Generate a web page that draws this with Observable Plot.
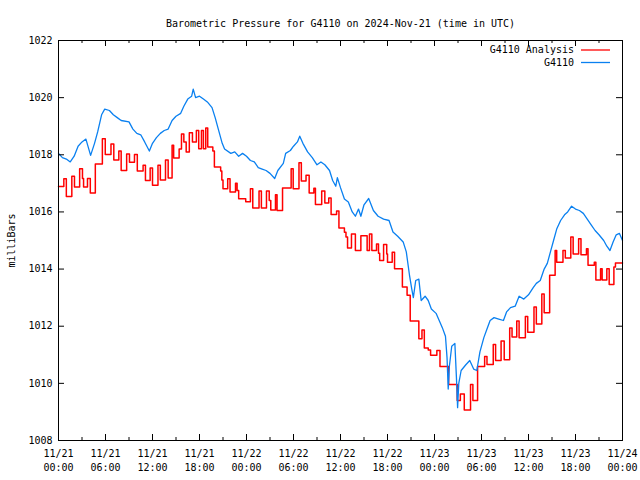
<!DOCTYPE html>
<html><head><meta charset="utf-8">
<script src="https://cdn.jsdelivr.net/npm/d3@7"></script>
<script src="https://cdn.jsdelivr.net/npm/@observablehq/plot@0.6"></script>
<style>body{margin:0;background:#fff}</style>
</head><body><div id="chart"></div>
<script>
const title = "Barometric Pressure for G4110 on 2024-Nov-21 (time in UTC)";
const yLabel = "milliBars";
const seriesNames = ["G4110 Analysis", "G4110"];
const seriesColors = ["#ff0000", "#0a80f0"];
const xTicks = [0, 6, 12, 18, 24, 30, 36, 42, 48, 54, 60, 66, 72];
const xTickLabels = ["11/21\n00:00","11/21\n06:00","11/21\n12:00","11/21\n18:00","11/22\n00:00","11/22\n06:00","11/22\n12:00","11/22\n18:00","11/23\n00:00","11/23\n06:00","11/23\n12:00","11/23\n18:00","11/24\n00:00"];
const xMinorTicks = [3, 9, 15, 21, 27, 33, 39, 45, 51, 57, 63, 69];
const yTicks = [1008, 1010, 1012, 1014, 1016, 1018, 1020, 1022];

// G4110 Analysis (step series): hours since 11/21 00:00 UTC, value in mb
const redHours = [0,0.68,1.0,1.7,2.04,2.7,3.06,3.2,3.7,4.06,4.7,5.6,5.97,6.7,7.06,7.7,8.0,8.7,9.06,9.7,10.06,10.8,11.1,11.7,12.0,12.7,13.0,13.66,14.0,14.5,14.7,15.4,15.7,16.0,16.3,16.7,17.1,17.6,17.9,18.25,18.5,18.8,19.05,19.7,19.9,20.7,20.85,21.0,21.6,21.9,22.6,22.8,23.0,23.9,24.5,24.8,25.6,25.9,26.55,26.9,27.1,27.7,27.9,28.6,29.7,29.96,30.7,31.0,31.6,32.0,32.6,32.8,33.6,34.0,34.5,34.8,35.5,35.8,36.5,36.7,36.9,37.4,37.9,38.6,39.4,39.7,40.0,40.6,40.85,41.0,41.5,41.9,42.0,42.6,42.9,43.9,44.5,44.9,46.0,46.4,46.7,47.2,47.5,48.3,48.7,49.8,50.9,51.3,51.8,52.6,52.9,53.5,54.4,54.7,55.5,55.8,56.5,56.9,57.6,57.9,58.5,58.8,59.6,59.9,60.7,61.0,61.7,62.0,62.7,63.4,63.6,64.4,64.7,65.4,65.7,66.4,66.7,67.4,67.6,68.4,68.6,69.2,69.4,70.0,70.3,70.9,71.1,72];
const redValues = [1016.89,1017.16,1016.54,1017.25,1016.87,1017.51,1017.17,1016.87,1017.17,1016.66,1017.68,1018.56,1018.01,1018.38,1017.82,1018.13,1017.45,1018.03,1017.74,1018.01,1017.43,1017.63,1017.1,1017.54,1016.93,1017.63,1017.12,1017.82,1017.19,1018.33,1017.89,1018.2,1018.73,1018.45,1018.1,1018.77,1018.45,1018.85,1018.21,1018.85,1018.21,1018.94,1018.27,1018.13,1017.57,1017.43,1017.12,1016.81,1017.16,1016.7,1017.0,1016.75,1016.46,1016.36,1016.81,1016.14,1016.73,1016.14,1016.73,1016.4,1016.07,1016.6,1016.05,1016.84,1017.51,1016.81,1017.72,1017.08,1017.28,1016.66,1016.83,1016.26,1016.73,1016.31,1016.49,1015.91,1016.03,1015.44,1015.29,1015.12,1014.74,1015.23,1014.65,1015.17,1014.65,1015.23,1014.65,1014.88,1014.55,1014.3,1014.86,1014.53,1014.24,1014.59,1014.01,1013.37,1013.08,1012.18,1011.56,1011.87,1011.24,1011.17,1010.98,1011.15,1010.59,1009.96,1009.4,1009.63,1009.07,1009.96,1009.4,1010.59,1010.94,1010.66,1011.36,1010.8,1011.48,1010.83,1011.94,1011.62,1012.18,1011.6,1012.34,1011.79,1012.67,1012.08,1013.13,1012.47,1013.78,1014.65,1014.24,1014.65,1014.39,1015.12,1014.53,1015.06,1014.5,1014.71,1014.13,1014.24,1013.62,1014.01,1013.62,1014.01,1013.46,1014.07,1014.21,1014.21];

// G4110 observed
const blueHours = [0,0.5,1,1.5,2,2.5,3,3.5,4.1,4.6,5,5.5,5.9,6.5,7,7.5,8,9,9.5,10,10.5,11,11.6,12,12.5,13,13.5,14,14.5,15,15.6,16,16.5,17,17.2,17.5,18,18.5,19,19.6,20,20.4,20.9,21.2,22,22.5,23,23.5,24,24.5,25,25.5,26,26.5,27,27.6,28,28.7,29,29.6,30,30.5,30.8,31.2,31.8,32.4,33,33.5,34,34.6,35,35.4,35.6,36,36.5,37,37.5,37.9,38.3,38.6,39,39.6,40.2,40.8,41.5,42.2,42.7,43.3,44,44.4,44.8,45.1,45.3,45.6,46,46.3,46.8,47.2,47.6,48.2,48.6,49.0,49.4,49.6,49.75,49.9,50.2,50.6,50.8,50.95,51.1,51.4,52,52.5,53,53.4,53.8,54.3,54.7,55.1,55.6,56.2,56.8,57.2,57.7,58.3,58.8,59.4,60,60.6,61,61.5,62,62.4,62.8,63.2,63.6,64.1,64.6,65,65.5,66,66.5,67,67.5,68,68.5,69,69.6,70,70.4,70.8,71.2,71.6,72];
const blueValues = [1018.05,1017.9,1017.85,1017.75,1017.95,1018.3,1018.45,1018.55,1017.98,1018.4,1018.8,1019.4,1019.6,1019.55,1019.4,1019.3,1019.2,1019.15,1018.9,1018.75,1018.7,1018.45,1018.13,1018.4,1018.6,1018.75,1018.85,1018.9,1019.2,1019.35,1019.45,1019.7,1019.95,1020.05,1020.3,1020.0,1020.05,1019.95,1019.85,1019.65,1019.3,1018.9,1018.4,1018.2,1018.05,1018.1,1017.95,1018.05,1017.95,1017.8,1017.75,1017.55,1017.5,1017.45,1017.35,1017.17,1017.45,1017.7,1018.05,1018.15,1018.3,1018.45,1018.65,1018.4,1018.1,1017.9,1017.65,1017.75,1017.65,1017.45,1017.1,1016.9,1017.2,1016.85,1016.45,1016.35,1016.0,1015.85,1016.1,1015.85,1016.25,1016.47,1016.05,1015.85,1015.75,1015.7,1015.3,1015.15,1014.95,1014.6,1013.8,1013.3,1013.0,1013.6,1013.65,1012.9,1013.05,1012.9,1012.6,1012.45,1012.2,1011.95,1011.65,1010.9,1009.8,1010.6,1011.3,1011.4,1010.2,1009.15,1010.0,1010.45,1010.65,1010.8,1010.5,1010.45,1011.1,1011.6,1011.9,1012.2,1012.3,1012.25,1012.2,1012.5,1012.65,1012.7,1013.05,1012.95,1013.1,1013.35,1013.5,1013.6,1014.0,1014.2,1014.6,1015.0,1015.4,1015.7,1015.9,1016.0,1016.2,1016.1,1016.05,1015.95,1015.75,1015.55,1015.35,1015.2,1015.0,1014.8,1014.65,1014.95,1015.2,1015.25,1015.0];

const red = redHours.map((h, i) => ({h, v: redValues[i]}));
const blue = blueHours.map((h, i) => ({h, v: blueValues[i]}));

const W = 640, H = 480, mL = 58, mR = 18, mT = 40, mB = 40;
const innerW = W - mL - mR, innerH = H - mT - mB;
const font = "DejaVu Sans Mono";

const legend = (index, scales, values, dims) => {
  const g = d3.create("svg:g").attr("font-family", font).attr("font-size", 10);
  const xr = dims.width - dims.marginRight;
  seriesNames.forEach((name, i) => {
    const y = dims.marginTop + 10 + i * 12.5;
    g.append("text").attr("x", xr - 48).attr("y", y).attr("text-anchor", "end")
      .attr("dy", "0.32em").attr("fill", "black").text(name);
    g.append("line").attr("x1", xr - 41).attr("x2", xr - 12).attr("y1", y).attr("y2", y)
      .attr("stroke", seriesColors[i]).attr("stroke-width", 1.3);
  });
  return g.node();
};

const chart = Plot.plot({
  width: W, height: H,
  marginLeft: mL, marginRight: mR, marginTop: mT, marginBottom: mB,
  style: {fontFamily: font, fontSize: "10px", color: "black", background: "white"},
  x: {domain: [0, 72]},
  y: {domain: [1008, 1022]},
  marks: [
    Plot.line(red, {x: "h", y: "v", curve: "step-after", stroke: seriesColors[0], strokeWidth: 1.5}),
    Plot.line(blue, {x: "h", y: "v", stroke: seriesColors[1], strokeWidth: 1.3}),
    Plot.tickX(xTicks, {x: d => d, insetTop: innerH - 6, stroke: "black"}),
    Plot.tickX(xTicks, {x: d => d, insetBottom: innerH - 6, stroke: "black"}),
    Plot.tickX(xMinorTicks, {x: d => d, insetTop: innerH - 3, stroke: "black"}),
    Plot.tickX(xMinorTicks, {x: d => d, insetBottom: innerH - 3, stroke: "black"}),
    Plot.tickY(yTicks, {y: d => d, insetRight: innerW - 6, stroke: "black"}),
    Plot.tickY(yTicks, {y: d => d, insetLeft: innerW - 6, stroke: "black"}),
    Plot.axisX(xTicks, {tickSize: 0, tickPadding: 7, lineHeight: 1.4,
      tickFormat: d => xTickLabels[xTicks.indexOf(d)], label: null}),
    Plot.axisY(yTicks, {tickSize: 0, tickPadding: 6, tickFormat: d => String(d),
      label: yLabel, labelAnchor: "center", labelArrow: false, labelOffset: 51}),
    Plot.frame({stroke: "black"}),
    Plot.text([title], {frameAnchor: "top", dy: -21, fill: "black"}),
    legend
  ]
});
document.getElementById("chart").appendChild(chart);
</script>
</body></html>
